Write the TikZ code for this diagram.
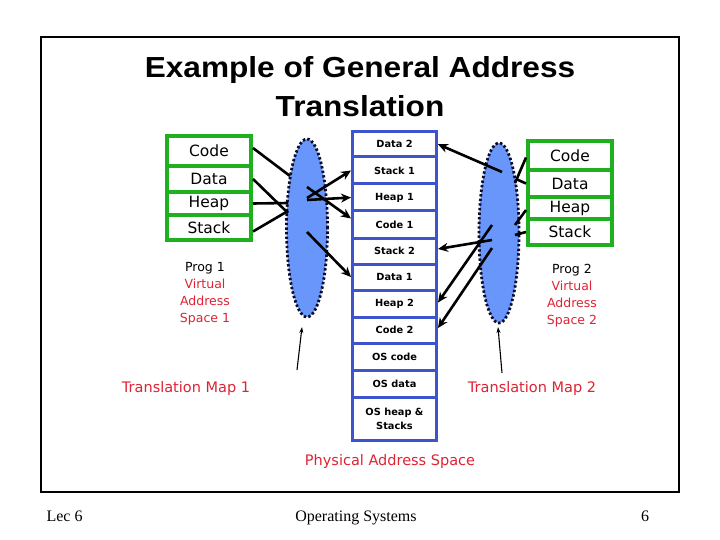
\documentclass[tikz,border=0pt]{standalone}
\usepackage{fontspec}
\setmainfont{Liberation Serif}
\newfontfamily\titlefont{Liberation Sans}
\newfontfamily\comic{DejaVu Sans}
\usetikzlibrary{arrows.meta,shapes.geometric}
\definecolor{boxgreen}{RGB}{30,176,30}
\definecolor{memblue}{RGB}{62,84,204}
\definecolor{mapfill}{RGB}{104,150,250}
\definecolor{labred}{RGB}{222,36,52}
\definecolor{dotline}{RGB}{12,12,40}
\tikzset{
  vrow/.style={draw=boxgreen, line width=4pt, minimum width=84pt, inner sep=0pt, fill=white,
    font=\comic\fontsize{15.5}{15.5}\selectfont},
  prow/.style={draw=memblue, line width=3pt, minimum width=84pt, inner sep=0pt, fill=white,
    font=\comic\bfseries\fontsize{9.8}{14}\selectfont, align=center},
  tmap/.style={ellipse, fill=mapfill, draw=dotline, line width=2.8pt, dash pattern=on 2.4pt off 2.2pt,
    minimum width=41pt, minimum height=178pt, inner sep=0pt},
  seg/.style={line width=2.6pt, black},
  arr/.style={line width=2.6pt, black, -{Stealth[length=10pt,width=9pt]}},
  thinarr/.style={line width=1.1pt, black, -{Stealth[length=6pt,width=4pt]}},
  redlab/.style={text=labred, font=\comic\fontsize{12.5}{17}\selectfont, align=center},
  biglab/.style={text=labred, font=\comic\fontsize{14.5}{15}\selectfont},
  foot/.style={font=\fontsize{16}{16}\selectfont, anchor=base},
}
\begin{document}
\begin{tikzpicture}[x=1pt,y=-1pt]
\useasboundingbox (0,0) rectangle (720,540);
\fill[white] (0,0) rectangle (720,540);
\draw[line width=2pt] (41,37) rectangle (679,492);
% title
\node[font=\titlefont\bfseries\fontsize{29}{29}\selectfont] (title1) at (360,70) {\scalebox{1.09}[1]{Example of General Address}};
\node[font=\titlefont\bfseries\fontsize{29}{29}\selectfont] (title2) at (360,106) {\scalebox{1.09}[1]{Translation}};
% ellipses
\node[tmap] (e1) at (307,228) {};
\node[tmap, minimum height=180pt, minimum width=40pt] (e2) at (499,233) {};
% left virtual space
\node[vrow, minimum height=30pt] (c1) at (209,151) {Code};
\node[vrow, minimum height=26pt] (d1) at (209,179) {Data};
\node[vrow, minimum height=23pt] (h1) at (209,203.5) {Heap};
\node[vrow, minimum height=25pt] (s1) at (209,227.5) {Stack};
% right virtual space
\node[vrow, minimum height=29pt] (c2) at (570,155.5) {Code};
\node[vrow, minimum height=27pt] (d2) at (570,183.5) {Data};
\node[vrow, minimum height=22pt] (h2) at (570,208) {Heap};
\node[vrow, minimum height=26pt] (s2) at (570,232) {Stack};
% physical memory
\node[prow, minimum height=25.5pt] (pd2) at (394.5,144.25) {Data 2};
\node[prow, minimum height=27pt] (ps1) at (394.5,170.5) {Stack 1};
\node[prow, minimum height=27pt] (ph1) at (394.5,197.5) {Heap 1};
\node[prow, minimum height=27pt] (pc1) at (394.5,224.5) {Code 1};
\node[prow, minimum height=26pt] (ps2) at (394.5,251) {Stack 2};
\node[prow, minimum height=26pt] (pd1) at (394.5,277) {Data 1};
\node[prow, minimum height=27pt] (ph2) at (394.5,303.5) {Heap 2};
\node[prow, minimum height=26pt] (pc2) at (394.5,330) {Code 2};
\node[prow, minimum height=27pt] (posc) at (394.5,356.5) {OS code};
\node[prow, minimum height=27pt] (posd) at (394.5,383.5) {OS data};
\node[prow, minimum height=43.5pt] (posh) at (394.5,418.75) {OS heap \&\\Stacks};
% labels
\node[font=\comic\fontsize{12.5}{12.5}\selectfont] (prog1) at (205,268) {Prog 1};
\node[redlab] (vas1) at (205,302) {Virtual\\Address\\Space 1};
\node[font=\comic\fontsize{12.5}{12.5}\selectfont] (prog2) at (572,270) {Prog 2};
\node[redlab] (vas2) at (572,304) {Virtual\\Address\\Space 2};
\node[biglab] (tm1) at (186,388) {Translation Map 1};
\node[biglab] (tm2) at (532,388) {Translation Map 2};
\node[text=labred, font=\comic\fontsize{14.5}{15}\selectfont] (pas) at (390,461) {Physical Address Space};
% coordinates on / in the maps
\coordinate (l1) at (290,176);
\coordinate (l2) at (288,213);
\coordinate (l3) at (288,203);
\coordinate (l4) at (288,211);
\coordinate (m1) at (307,198);
\coordinate (m2) at (307,200);
\coordinate (m3) at (307,187);
\coordinate (m4) at (307,232);
\coordinate (r1) at (515,183);
\coordinate (r2) at (516,179);
\coordinate (r3) at (515,225);
\coordinate (r4) at (515,235);
\coordinate (n1) at (502,172);
\coordinate (n2) at (492,240);
\coordinate (n3) at (492,225);
\coordinate (n4) at (492,248);
\coordinate (t1) at (297,370);
\coordinate (t1e) at (302,327);
\coordinate (t2) at (502,373);
\coordinate (t2e) at (498,327);
% left connectors
\draw[seg] ([yshift=3pt]c1.east) -- (l1);
\draw[seg] (d1.east) -- (l2);
\draw[seg] (h1.east) -- (l3);
\draw[seg] ([yshift=-4pt]s1.east) -- (l4);
\draw[arr] (m1) -- (ps1.west);
\draw[arr] (m2) -- (ph1.west);
\draw[arr] (m3) -- ([yshift=6pt]pc1.west);
\draw[arr] (m4) -- (pd1.west);
% right connectors
\draw[seg] ([yshift=-2pt]c2.west) -- (r1);
\draw[seg] (d2.west) -- (r2);
\draw[seg] ([yshift=-2pt]h2.west) -- (r3);
\draw[seg] (s2.west) -- (r4);
\draw[arr] (n1) -- (pd2.east);
\draw[arr] (n2) -- ([yshift=2pt]ps2.east);
\draw[arr] (n3) -- ([yshift=1pt]ph2.east);
\draw[arr] (n4) -- ([yshift=2pt]pc2.east);
% translation map pointers
\draw[thinarr] (t1) -- (t1e);
\draw[thinarr] (t2) -- (t2e);
% footer
\node[foot, anchor=base west] (lec) at (43,521) {Lec 6};
\node[foot] (os) at (356,521) {Operating Systems};
\node[foot] (pg) at (645,521) {6};
\end{tikzpicture}
\end{document}
